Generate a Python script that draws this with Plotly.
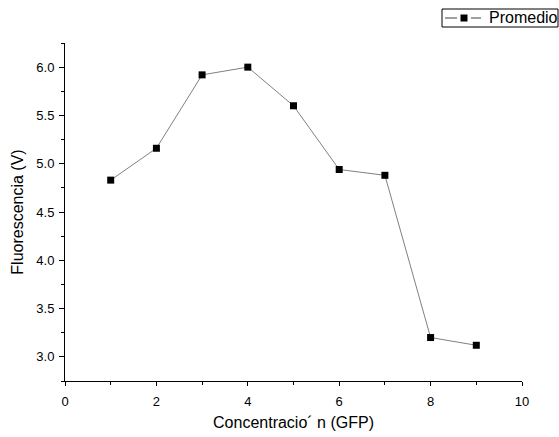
import plotly.graph_objects as go

# Mean fluorescence per GFP concentration
concentracion = [1, 2, 3, 4, 5, 6, 7, 8, 9]
promedio = [4.83, 5.16, 5.92, 6.00, 5.60, 4.94, 4.88, 3.20, 3.12]

font_family = "Liberation Sans, Arial, sans-serif"
line_color = "#808080"

W, H = 559, 437
M_L, M_R, M_T, M_B = 65, 37, 43, 56
PW, PH = W - M_L - M_R, H - M_T - M_B


def px_x(px):
    """Pixel column -> paper x."""
    return (px - M_L) / PW


def px_y(py):
    """Pixel row -> paper y."""
    return (H - M_B - py) / PH


fig = go.Figure()
fig.add_trace(go.Scatter(
    x=concentracion,
    y=promedio,
    mode="lines+markers",
    name="Promedio",
    showlegend=False,
    line=dict(color=line_color, width=1),
    marker=dict(symbol="square", size=7, color="black"),
))

axis_common = dict(
    showgrid=False,
    zeroline=False,
    showline=True,
    linecolor="black",
    linewidth=1,
    ticks="outside",
    tickwidth=1,
    tickcolor="black",
    tickfont=dict(family=font_family, size=13, color="black"),
    mirror=False,
    automargin=False,
)

# Boxed legend in the top-right corner
leg_left, leg_right, leg_top, leg_bottom = 442, 558, 9, 27
leg_mid = (leg_top + leg_bottom) / 2


def seg(x0, x1):
    return dict(type="line", xref="paper", yref="paper",
                x0=px_x(x0), x1=px_x(x1), y0=px_y(leg_mid), y1=px_y(leg_mid),
                line=dict(color="#404040", width=1), layer="above")


shapes = [
    dict(type="rect", xref="paper", yref="paper",
         x0=px_x(leg_left), x1=px_x(leg_right), y0=px_y(leg_bottom), y1=px_y(leg_top),
         line=dict(color="black", width=1), fillcolor="white", layer="above"),
    seg(445, 457),
    seg(471, 481),
    dict(type="rect", xref="paper", yref="paper",
         x0=px_x(460.5), x1=px_x(467.5), y0=px_y(leg_mid + 3.5), y1=px_y(leg_mid - 3.5),
         line=dict(color="black", width=0), fillcolor="black", layer="above"),
]
annotations = [
    dict(text="Promedio", xref="paper", yref="paper",
         x=px_x(487), y=px_y(leg_mid), xanchor="left", yanchor="middle",
         showarrow=False, font=dict(family=font_family, size=16, color="black")),
]

fig.update_layout(
    width=W,
    height=H,
    margin=dict(l=M_L, r=M_R, t=M_T, b=M_B),
    paper_bgcolor="white",
    plot_bgcolor="white",
    font=dict(family=font_family, color="black"),
    showlegend=False,
    shapes=shapes,
    annotations=annotations,
    xaxis=dict(
        range=[0, 10],
        dtick=2,
        tick0=0,
        tickformat="d",
        ticklen=4,
        ticklabelstandoff=4,
        title=dict(text="Concentracio\u00b4 n (GFP)", font=dict(family=font_family, size=16), standoff=9),
        minor=dict(dtick=1, ticks="outside", ticklen=3, tickcolor="black"),
        **axis_common,
    ),
    yaxis=dict(
        range=[2.75, 6.25],
        dtick=0.5,
        tick0=3.0,
        tickformat=".1f",
        ticklen=5,
        ticklabelstandoff=2,
        title=dict(text="Fluorescencia (V)", font=dict(family=font_family, size=16), standoff=8),
        minor=dict(dtick=0.25, ticks="outside", ticklen=3, tickcolor="black"),
        **axis_common,
    ),
)

fig.write_html("out.html")
